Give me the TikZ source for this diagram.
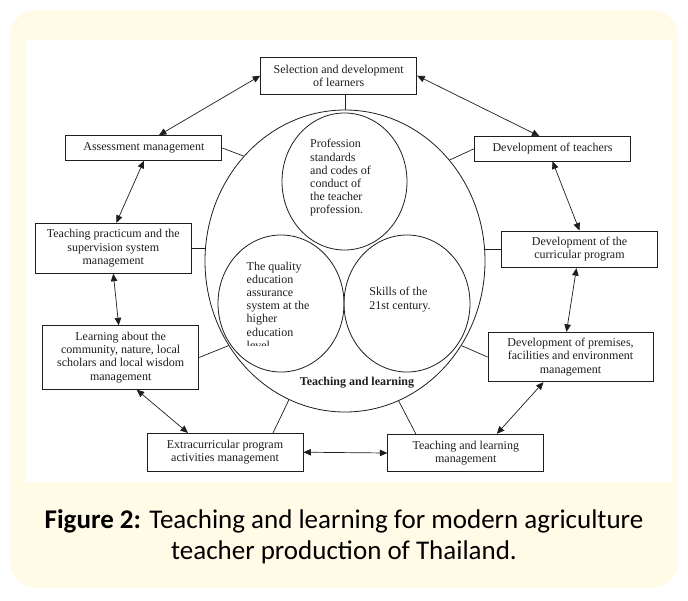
\documentclass[tikz,border=0pt]{standalone}
\usepackage{fontspec}
\setmainfont{Liberation Serif}
\newfontfamily\capfont{Carlito}
\usetikzlibrary{shapes.geometric,arrows.meta}
\definecolor{cream}{RGB}{255,251,231}
\definecolor{ink}{RGB}{30,30,30}
\tikzset{
  box/.style={draw=ink, line width=0.9pt, minimum width=156pt, inner sep=1pt,
    align=center, text=ink, font=\fontsize{12}{13.2}\selectfont},
  ring/.style={draw=ink, ellipse, line width=0.8pt, inner sep=0pt},
  circtext/.style={align=left, text=ink, inner sep=0pt, font=\fontsize{12}{13.2}\selectfont},
  link/.style={draw=ink, line width=0.7pt},
  twoway/.style={draw=ink, line width=0.7pt,
    {Triangle[length=7.5pt,width=6.5pt]}-{Triangle[length=7.5pt,width=6.5pt]}},
}
\begin{document}
\begin{tikzpicture}[x=1pt,y=-1pt]
\useasboundingbox (0,0) rectangle (688,600);
\fill[cream, rounded corners=26pt] (10,10) rectangle (678,588);
\fill[white] (25.5,39.5) rectangle (671.7,481.7);

% core circles
\node[ring, minimum width=280pt, minimum height=302pt] (core) at (345,261) {};
\node[ring, minimum width=125pt, minimum height=137pt] (prof) at (344.5,181.5) {};
\node[ring, minimum width=126pt, minimum height=137pt] (qual) at (281,303.5) {};
\node[ring, minimum width=126pt, minimum height=137pt] (skill) at (407,303.5) {};
\node[circtext] (proftext) at (340.5,178) {Profession\\standards\\and codes of\\conduct of\\the teacher\\profession.};
\begin{scope}
\clip (230,250) rectangle (340,345);
\node[circtext] (qualtext) at (278,305.5) {The quality\\education\\assurance\\system at the\\higher\\education\\level};
\end{scope}
\node[circtext] (skilltext) at (400,299.5) {Skills of the\\21st century.};
\node[font=\fontsize{12}{13.2}\selectfont\bfseries, text=ink] (tl) at (357,383) {Teaching and learning};

% boxes
\node[box, minimum height=36.7pt] (sel) at (338.7,75.7) {Selection and development\\of learners};
\node[box, minimum height=24.6pt] (assess) at (143.9,148) {Assessment management};
\node[box, minimum height=24.3pt] (devt) at (552.5,148.8) {Development of teachers};
\node[box, minimum height=50pt] (prac) at (113.3,248.3) {Teaching practicum and the\\supervision system\\management};
\node[box, minimum height=36.7pt] (curr) at (579.5,249.3) {Development of the\\curricular program};
\node[box, minimum height=63.5pt] (comm) at (120.7,357.5) {Learning about the\\community, nature, local\\scholars and local wisdom\\management};
\node[box, minimum height=49.4pt, minimum width=165pt] (prem) at (570.5,357) {Development of premises,\\facilities and environment\\management};
\node[box, minimum height=37.7pt] (extra) at (225,452.2) {Extracurricular program\\activities management};
\node[box, minimum height=37.4pt] (tlm) at (465.8,453) {Teaching and learning\\management};

% links to the core
\path[link] (sel.south -| core.north) -- (core.north);
\path[link] (assess.east) -- (core.134);
\path[link] (devt.west) -- (core.44);
\path[link] (prac.east) -- (prac.east -| core.west);
\path[link] (curr.west) -- (curr.west -| core.east);
\path[link] (comm.east) -- (core.216);
\path[link] (prem.west) -- (core.-36);
\path[link] ([xshift=48pt]extra.north) -- (core.248);
\path[link] ([xshift=-50pt]tlm.north) -- (core.291);

% ring of arrows
\path[twoway] (sel.west) -- ([xshift=15pt]assess.north);
\path[twoway] (sel.east) -- ([xshift=-13pt]devt.north);
\path[twoway] (assess.south) -- ([xshift=3pt]prac.north);
\path[twoway] (prac.south) -- ([xshift=-2pt]comm.north);
\path[twoway] ([xshift=16pt]comm.south) -- ([xshift=-37pt]extra.north);
\path[twoway] (extra.east) -- (tlm.west);
\path[twoway] ([xshift=31pt]tlm.north) -- ([xshift=-27pt]prem.south);
\path[twoway] ([xshift=-4pt]prem.north) -- ([xshift=-3pt]curr.south);
\path[twoway] (curr.north) -- (devt.south);

\node[font=\capfont\fontsize{27}{31}\selectfont, align=center] (caption) at (344,537)
  {\textbf{Figure 2:} Teaching and learning for modern agriculture\\teacher production of Thailand.};
\end{tikzpicture}
\end{document}
